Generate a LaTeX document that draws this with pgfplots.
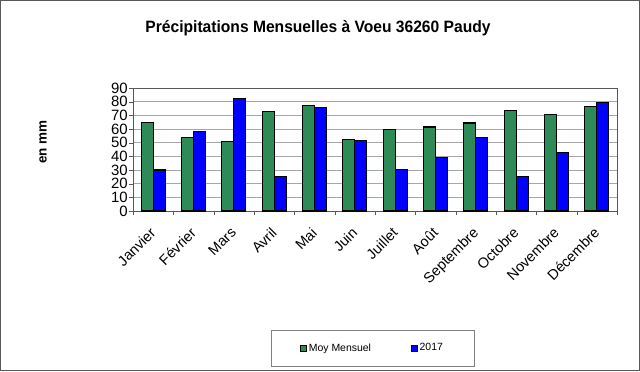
\documentclass[border=0pt]{standalone}
\usepackage{pgfplots}
\pgfplotsset{compat=1.18}
\usepackage{fontspec}
\setmainfont{Liberation Sans}
\definecolor{vert}{RGB}{46,139,87}
\definecolor{bleu}{RGB}{0,0,255}
\begin{document}
\begin{tikzpicture}[x=1bp,y=1bp]
\draw[gray!70!black, line width=1bp, fill=white] (0.5,0.5) rectangle (639.5,370.5);
\node[font=\bfseries\fontsize{16.5}{18}\selectfont, xscale=0.95] at (318,343) {Précipitations Mensuelles à Voeu 36260 Paudy};
\node[rotate=90,font=\bfseries\fontsize{13.5}{15}\selectfont] at (43,229) {en mm};
\draw[gray, line width=0.8bp] (271,5) rectangle (474,41);
\begin{axis}[
  at={(133bp,160bp)}, anchor=south west,
  scale only axis, width=484bp, height=123bp,
  ybar=0pt, bar width=12bp,
  ymin=0, ymax=90, ytick={0,10,...,90},
  xmin=-0.5, xmax=11.5,
  xtick={0,...,11},
  xticklabels={Janvier,Février,Mars,Avril,Mai,Juin,Juillet,Août,Septembre,Octobre,Novembre,Décembre},
  minor xtick={-0.5,0.5,...,11.5},
  major x tick style={draw=none},
  minor x tick style={draw=gray!70!black},
  minor tick length=4bp, major tick length=4bp,
  tick align=outside,
  xtick pos=bottom, ytick pos=left,
  ymajorgrids, grid style={gray!70, line width=0.6bp},
  axis line style={gray!70!black, line width=0.8bp},
  y tick style={gray!70!black},
  /pgf/number format/assume math mode=true,
  yticklabel style={font=\fontsize{15}{15}\selectfont, inner sep=1bp},
  xticklabel style={font=\fontsize{14.5}{15}\selectfont, xshift=-4bp, yshift=-10bp, rotate=45, anchor=north east, inner sep=1bp},
  legend style={at={(0.495,-1.114)}, anchor=center, draw=none, fill=none,
    legend columns=2, font=\fontsize{10.5}{12}\selectfont,
    /tikz/every even column/.append style={column sep=38bp}},
  legend image code/.code={\draw[#1,draw=black,line width=0.6bp] (0bp,-3bp) rectangle (6bp,3bp);},
]
\addplot[fill=vert, draw=black, line width=1.1bp] coordinates {
(0,65) (1,53.5) (2,51) (3,73) (4,77.5) (5,52.5) (6,59.5) (7,61.5) (8,64.4) (9,73.3) (10,70.5) (11,76.7)};
\addplot[fill=bleu, draw=black, line width=1.1bp] coordinates {
(0,30) (1,58.5) (2,82) (3,25) (4,76) (5,51.5) (6,30.5) (7,39.4) (8,54) (9,25.5) (10,43) (11,79.5)};
\legend{Moy Mensuel,2017}
\end{axis}
\end{tikzpicture}
\end{document}
